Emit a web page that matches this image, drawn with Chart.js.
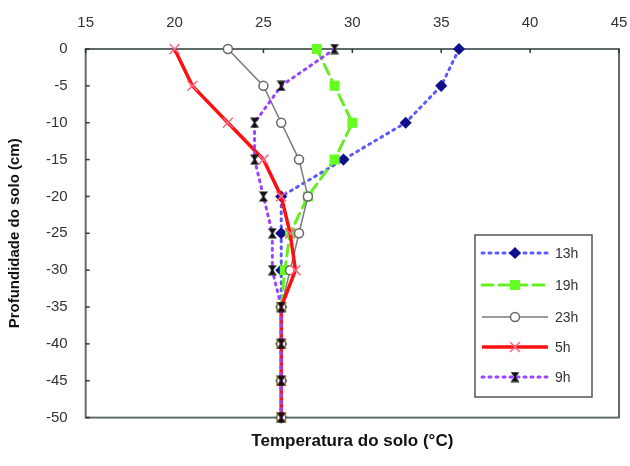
<!DOCTYPE html>
<html lang="pt">
<head>
  <meta charset="UTF-8">
  <title>Temperatura do solo</title>
  <script src="https://cdn.jsdelivr.net/npm/chart.js"></script>
  <style>
    html, body { margin: 0; padding: 0; background: #fff; }
    #wrap { width: 630px; height: 466px; }
  </style>
</head>
<body>
  <div id="wrap"><canvas id="chart" width="630" height="466"></canvas></div>

  <script>
    // profundidade (cm) e temperaturas (°C)
    const depth = [0, -5, -10, -15, -20, -25, -30, -35, -40, -45, -50];
    const labels = ['13h', '19h', '23h', '5h', '9h'];
    const t13 = [36, 35, 33, 29.5, 26, 26, 26, 26, 26, 26, 26];
    const t19 = [28, 29, 30, 29, 27.5, 26.5, 26.2, 26, 26, 26, 26];
    const t23 = [23, 25, 26, 27, 27.5, 27, 26.5, 26, 26, 26, 26];
    const t5 = [20, 21, 23, 25, 26, 26.5, 26.8, 26, 26, 26, 26];
    const t9 = [29, 26, 24.5, 24.5, 25, 25.5, 25.5, 26, 26, 26, 26];

    const xTicks = [15, 20, 25, 30, 35, 40, 45];

    function pts(temps) {
      return temps.map((t, i) => ({ x: t, y: depth[i] }));
    }

    // marcador "ampulheta" preto da série 9h
    const hourglass = document.createElement('canvas');
    hourglass.width = 10; hourglass.height = 11;
    (function () {
      const c = hourglass.getContext('2d');
      c.fillStyle = '#111';
      c.beginPath();
      c.moveTo(0.5, 0.5); c.lineTo(9.5, 0.5); c.lineTo(5.8, 5.5);
      c.lineTo(9.5, 10.5); c.lineTo(0.5, 10.5); c.lineTo(4.2, 5.5);
      c.closePath();
      c.fill();
    })();

    const series = [
      { data: t13, color: '#5a5aff', width: 3, dash: [2, 5], style: 'rectRot', radius: 5, fill: '#10108c', border: '#10108c', order: 5 },
      { data: t19, color: '#66ee22', width: 3, dash: [11, 6], style: 'rect', radius: 6, fill: '#66ff22', border: '#66ff22', order: 4 },
      { data: t23, color: '#7a7a7a', width: 1.5, dash: [], style: 'circle', radius: 4.5, fill: '#ffffff', border: '#666', order: 3 },
      { data: t5, color: '#ff1010', width: 3.5, dash: [], style: 'crossRot', radius: 7, fill: '#ff6688', border: '#ff6688', order: 2 },
      { data: t9, color: '#9a44ff', width: 3, dash: [2, 5], style: hourglass, radius: 5, fill: '#111', border: '#111', order: 1 }
    ];

    const datasets = series.map((s, i) => ({
      label: labels[i],
      data: pts(s.data),
      borderColor: s.color,
      borderWidth: s.width,
      borderDash: s.dash,
      borderCapStyle: s.dash.length ? 'round' : 'butt',
      tension: 0,
      clip: false,
      pointStyle: s.style,
      pointRadius: s.radius,
      pointBackgroundColor: s.fill,
      pointBorderColor: s.border,
      pointBorderWidth: 1.5,
      order: s.order
    }));

    // moldura da área do gráfico
    const frame = {
      id: 'frame',
      beforeDatasetsDraw(chart) {
        const a = chart.chartArea, ctx = chart.ctx;
        ctx.save();
        ctx.strokeStyle = '#5f6a6a';
        ctx.lineWidth = 2;
        ctx.strokeRect(a.left, a.top, a.right - a.left, a.bottom - a.top);
        // marcas internas dos eixos
        ctx.lineWidth = 1.5;
        ctx.strokeStyle = '#333';
        const xs = chart.scales.x, ys = chart.scales.y;
        xTicks.forEach(v => {
          const px = xs.getPixelForValue(v);
          ctx.beginPath(); ctx.moveTo(px, a.top); ctx.lineTo(px, a.top + 4); ctx.stroke();
        });
        depth.forEach(v => {
          const py = ys.getPixelForValue(v);
          ctx.beginPath(); ctx.moveTo(a.left, py); ctx.lineTo(a.left + 4, py); ctx.stroke();
        });
        ctx.restore();
      }
    };

    // legenda dentro da área do gráfico
    const boxLegend = {
      id: 'boxLegend',
      afterDraw(chart) {
        const ctx = chart.ctx;
        const bx = 475, by = 235, bw = 117, bh = 162;
        const rows = [253, 285, 317, 347, 377];
        ctx.save();
        ctx.fillStyle = '#fff';
        ctx.fillRect(bx, by, bw, bh);
        ctx.strokeStyle = '#555';
        ctx.lineWidth = 1.5;
        ctx.strokeRect(bx, by, bw, bh);
        chart.data.datasets.forEach((ds, i) => {
          const y = rows[i];
          ctx.save();
          ctx.strokeStyle = ds.borderColor;
          ctx.lineWidth = ds.borderWidth;
          ctx.setLineDash(ds.borderDash);
          ctx.lineCap = ds.borderCapStyle;
          ctx.beginPath(); ctx.moveTo(482, y); ctx.lineTo(548, y); ctx.stroke();
          ctx.restore();
          ctx.save();
          ctx.fillStyle = ds.pointBackgroundColor;
          ctx.strokeStyle = ds.pointBorderColor;
          ctx.lineWidth = ds.pointBorderWidth;
          Chart.helpers.drawPoint(ctx, { pointStyle: ds.pointStyle, radius: ds.pointRadius, rotation: 0, borderWidth: ds.pointBorderWidth }, 515, y);
          ctx.restore();
          ctx.fillStyle = '#333';
          ctx.font = '14px "Liberation Sans", Arial, sans-serif';
          ctx.textBaseline = 'middle';
          ctx.fillText(ds.label, 555, y + 1);
        });
        ctx.restore();
      }
    };

    new Chart(document.getElementById('chart'), {
      type: 'line',
      data: { datasets },
      plugins: [frame, boxLegend],
      options: {
        responsive: false,
        animation: false,
        layout: { padding: { top: 5, right: 11, bottom: 14, left: 6 } },
        plugins: { legend: { display: false }, tooltip: { enabled: false } },
        scales: {
          x: {
            type: 'linear',
            position: 'top',
            min: 15, max: 45,
            afterBuildTicks: s => { s.ticks = xTicks.map(v => ({ value: v })); },
            afterFit: s => { s.paddingRight = 0; },
            grid: { display: false },
            border: { display: false },
            ticks: { color: '#333', font: { family: '"Liberation Sans", Arial, sans-serif', size: 15 }, padding: 9, maxRotation: 0 }
          },
          xb: {
            type: 'linear',
            position: 'bottom',
            min: 15, max: 45,
            grid: { display: false },
            border: { display: false },
            ticks: { display: false },
            title: {
              display: true,
              text: 'Temperatura do solo (°C)',
              color: '#111',
              font: { family: '"Liberation Sans", Arial, sans-serif', size: 17, weight: 'bold' },
              padding: { top: 6, bottom: 0 }
            }
          },
          y: {
            type: 'linear',
            min: -50, max: 0,
            afterBuildTicks: s => { s.ticks = depth.map(v => ({ value: v })); },
            grid: { display: false },
            border: { display: false },
            ticks: { color: '#333', font: { family: '"Liberation Sans", Arial, sans-serif', size: 15 }, padding: 10 },
            title: {
              display: true,
              text: 'Profundidade do solo (cm)',
              color: '#111',
              font: { family: '"Liberation Sans", Arial, sans-serif', size: 15, weight: 'bold' },
              padding: { top: 0, bottom: 12 }
            }
          }
        }
      }
    });
  </script>
</body>
</html>
